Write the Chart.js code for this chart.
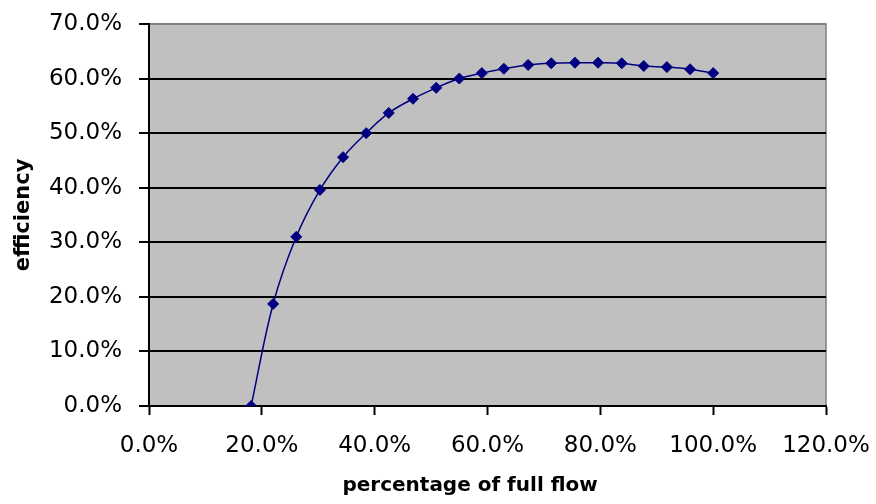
<!DOCTYPE html>
<html>
<head>
<meta charset="utf-8">
<script src="https://cdn.jsdelivr.net/npm/chart.js@4/dist/chart.umd.min.js"></script>
<style>
  html, body { margin: 0; padding: 0; background: #ffffff; }
  #wrap { width: 876px; height: 504px; }
</style>
</head>
<body>
<div id="wrap"><canvas id="chart" width="876" height="504"></canvas></div>
<script>
// percentage of full flow (x) and efficiency (y), both in %
var flow = [18.1, 22.0, 26.1, 30.3, 34.4, 38.5, 42.5, 46.8, 50.9, 55.0, 59.0,
            62.9, 67.2, 71.3, 75.5, 79.6, 83.8, 87.7, 91.8, 95.9, 100.0];
var efficiency = [0.0, 18.7, 31.0, 39.6, 45.6, 50.0, 53.7, 56.3, 58.3, 60.0, 61.0,
                  61.8, 62.5, 62.8, 62.9, 62.9, 62.8, 62.3, 62.1, 61.7, 61.0];

var xTicks = ['0.0%', '20.0%', '40.0%', '60.0%', '80.0%', '100.0%', '120.0%'];
var yTicks = ['0.0%', '10.0%', '20.0%', '30.0%', '40.0%', '50.0%', '60.0%', '70.0%'];

var points = flow.map(function(f, i) { return { x: f, y: efficiency[i] }; });

var plotBg = {
  id: 'plotBg',
  beforeDraw: function(chart) {
    var a = chart.chartArea, c = chart.ctx;
    c.save();
    c.fillStyle = '#c0c0c0';
    c.fillRect(a.left, a.top, a.right - a.left, a.bottom - a.top);
    c.strokeStyle = '#808080';
    c.lineWidth = 1.5;
    c.beginPath();
    c.moveTo(a.left, a.top);
    c.lineTo(a.right, a.top);
    c.lineTo(a.right, a.bottom);
    c.stroke();
    c.restore();
  }
};

var tickFont = { family: 'DejaVu Sans', size: 23 };

new Chart(document.getElementById('chart'), {
  type: 'line',
  data: {
    datasets: [{
      label: 'efficiency',
      data: points,
      borderColor: '#000080',
      backgroundColor: '#000080',
      borderWidth: 1.5,
      tension: 0.35,
      pointStyle: 'rectRot',
      pointRadius: 5.5,
      pointBorderWidth: 1,
      pointBorderColor: '#000080',
      pointBackgroundColor: '#000080',
      fill: false
    }]
  },
  options: {
    responsive: false,
    animation: false,
    layout: { padding: { top: 24, right: 50, left: 0, bottom: 0 } },
    plugins: {
      legend: { display: false },
      tooltip: { enabled: false }
    },
    scales: {
      x: {
        type: 'linear',
        min: 0,
        max: 120,
        afterFit: function(s) {
          s.height = 98;
          s.paddingLeft = 0;
          s.paddingRight = 0;
        },
        afterBuildTicks: function(s) {
          s.ticks = xTicks.map(function(t, i) { return { value: i * 20 }; });
        },
        ticks: {
          color: '#000000',
          font: tickFont,
          padding: 17,
          maxRotation: 0,
          callback: function(v, i) { return xTicks[i]; }
        },
        grid: {
          drawOnChartArea: false,
          drawTicks: true,
          tickLength: 9,
          tickColor: '#000000',
          tickWidth: 2
        },
        border: { display: true, color: '#000000', width: 2 },
        title: {
          display: true,
          text: 'percentage of full flow\u00a0\u00a0\u00a0\u00a0\u00a0',
          color: '#000000',
          font: { family: 'DejaVu Sans', size: 20, weight: 'bold' },
          padding: { top: 0, bottom: 6 }
        }
      },
      y: {
        type: 'linear',
        min: 0,
        max: 70,
        afterFit: function(s) {
          s.width = 149;
          s.paddingTop = 0;
          s.paddingBottom = 0;
        },
        afterBuildTicks: function(s) {
          s.ticks = yTicks.map(function(t, i) { return { value: i * 10 }; });
        },
        ticks: {
          color: '#000000',
          font: tickFont,
          padding: 17,
          callback: function(v, i) { return yTicks[i]; }
        },
        grid: {
          color: function(ctx) { return ctx.tick && ctx.tick.value === 70 ? '#808080' : '#000000'; },
          lineWidth: 2,
          drawTicks: true,
          tickLength: 10,
          tickColor: '#000000',
          tickWidth: 2
        },
        border: { display: true, color: '#000000', width: 2 },
        title: {
          display: true,
          text: 'efficiency',
          color: '#000000',
          font: { family: 'DejaVu Sans', size: 21, weight: 'bold' },
          padding: { top: 11, bottom: 0 }
        }
      }
    }
  },
  plugins: [plotBg]
});
</script>
</body>
</html>
